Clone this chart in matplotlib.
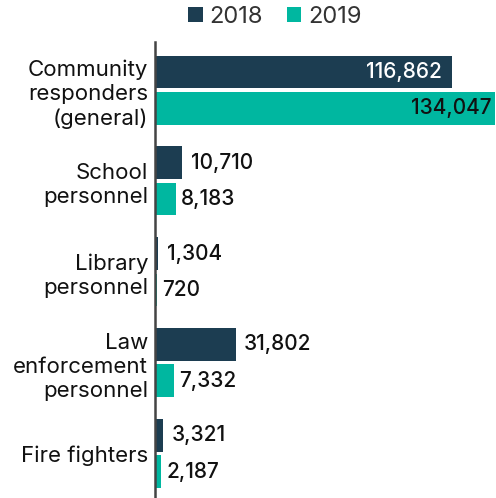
import numpy as np
import matplotlib.pyplot as plt

categories = ["Community\nresponders\n(general)", "School\npersonnel", "Library\npersonnel",
              "Law\nenforcement\npersonnel", "Fire fighters"]
values_2018 = [116862, 10710, 1304, 31802, 3321]
values_2019 = [134047, 8183, 720, 7332, 2187]

c2018 = "#1c3d51"
c2019 = "#00b7a0"

plt.rcParams['font.family'] = ['Inter', 'DejaVu Sans']

fig = plt.figure(figsize=(4.96, 4.98), dpi=100)
ax = fig.add_axes([155 / 496, 0, 1 - 155 / 496, (498 - 42) / 498])

y = np.arange(len(categories))
h = 0.36
off = 0.2
b1 = ax.barh(y - off, values_2018, height=h, color=c2018, label="2018")
b2 = ax.barh(y + off, values_2019, height=h, color=c2019, label="2019")

ax.set_xlim(0, 134300)
ax.set_ylim(4.49, -0.53)
ax.set_yticks(y)
ax.set_yticklabels(categories, fontsize=16, color="#111111", linespacing=1.25)
ax.tick_params(axis="y", length=0, pad=5)
ax.set_xticks([])
for s in ["top", "right", "bottom"]:
    ax.spines[s].set_visible(False)
ax.spines["left"].set_color("#444444")
ax.spines["left"].set_linewidth(1.8)

# value labels
for i, (v1, v2) in enumerate(zip(values_2018, values_2019)):
    if i == 0:
        ax.annotate(f"{v1:,}", (v1, i - off), xytext=(-7, 0), textcoords="offset points",
                    ha="right", va="center", color="white", fontsize=15, fontweight="medium")
        ax.annotate(f"{v2:,}", (v2, i + off), xytext=(-3, 0), textcoords="offset points",
                    ha="right", va="center", color="#111111", fontsize=15, fontweight="medium")
    else:
        ax.annotate(f"{v1:,}", (v1, i - off), xytext=(6, 0), textcoords="offset points",
                    ha="left", va="center", color="#111111", fontsize=15, fontweight="medium")
        ax.annotate(f"{v2:,}", (v2, i + off), xytext=(4, 0), textcoords="offset points",
                    ha="left", va="center", color="#111111", fontsize=15, fontweight="medium")

fig.legend(handles=[b1, b2], loc="center", bbox_to_anchor=(275 / 496, 1 - 17 / 498),
           ncol=2, frameon=False, fontsize=17, handlelength=0.6, handleheight=0.6,
           handletextpad=0.3, columnspacing=1.0, labelcolor="#333333")

plt.savefig("out.png", dpi=100)
